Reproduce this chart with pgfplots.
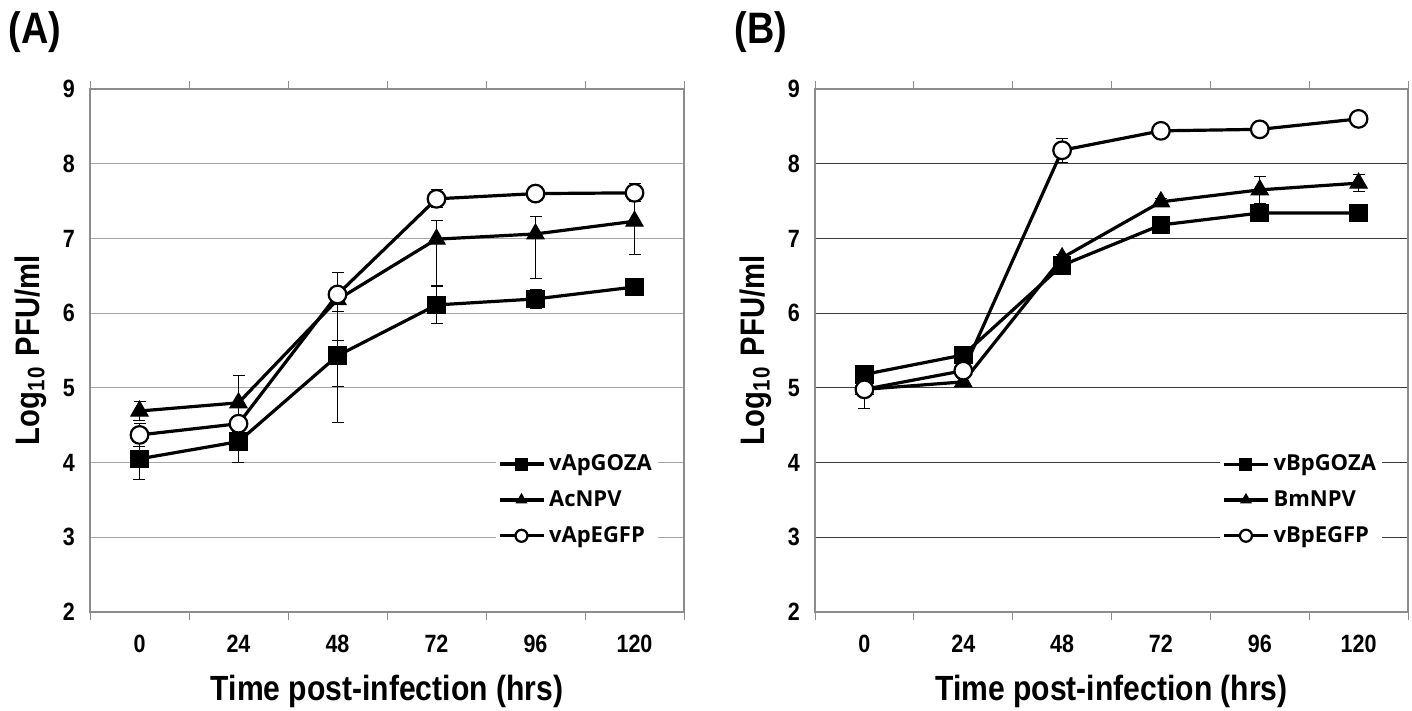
\documentclass[border=0pt]{standalone}
\usepackage{fontspec}
\setmainfont{Liberation Sans}[FakeStretch=0.86]
\newfontfamily\legfont{Open Sans}
\usepackage{pgfplots}
\pgfplotsset{compat=1.18}
\definecolor{gridA}{HTML}{A6A6A6}
\definecolor{gridB}{HTML}{3A3A3A}
\definecolor{frameA}{HTML}{8C8C8C}

\pgfplotsset{
  growth/.style={
    scale only axis, width=297pt, height=261.5pt,
    xmin=-0.5, xmax=5.5, ymin=2, ymax=9,
    xtick={0,...,5}, xticklabels={0,24,48,72,96,120},
    ytick={2,...,9}, ymajorgrids,
    major tick length=0pt,
    extra x ticks={-0.5,0.5,...,5.5}, extra x tick labels={},
    extra x tick style={grid=none, major tick length=4pt, tick align=outside,
                        tick style={draw=frameA, line width=0.5pt}},
    axis line style={draw=frameA, line width=0.6pt},
    /pgf/number format/assume math mode=true,
    tick label style={font=\fontsize{12.5}{14}\selectfont\bfseries},
    xticklabel style={yshift=-8pt},
    yticklabel style={xshift=-4pt},
    ylabel={Log$_{\mathbf{10}}$ PFU/ml},
    ylabel style={at={(axis description cs:-0.1,0.5)}, anchor=center, rotate=0,
                  font=\fontsize{17}{19}\selectfont\bfseries},
    xlabel={Time post-infection (hrs)},
    xlabel style={at={(axis description cs:0.5,-0.152)}, anchor=center,
                  font=\fontsize{17.5}{20}\selectfont\bfseries},
    legend cell align=left,
    legend style={draw=none, fill=white, inner sep=1pt,
                  font=\legfont\fontsize{11}{13}\selectfont\bfseries,
                  row sep=4.5pt, at={(axis cs:5.24,3.5)}, anchor=east},
    legend image code/.code={
      \draw[#1, mark size=3pt, mark repeat=2, mark phase=2]
        plot coordinates {(0pt,0pt) (11pt,0pt) (22pt,0pt)};},
    error bars/y dir=both, error bars/y explicit,
    error bars/error bar style={black, line width=0.5pt},
    error bars/error mark options={rotate=90, mark size=3pt, black, line width=0.5pt},
  },
  sq/.style={black, line width=1.6pt, mark=square*, mark size=4.4pt,
             mark options={fill=black, line width=0.5pt}},
  tr/.style={black, line width=1.6pt, mark=triangle*, mark size=5pt,
             mark options={fill=black, line width=0.5pt}},
  ci/.style={black, line width=1.6pt, mark=*, mark size=4.4pt,
             mark options={fill=white, line width=1.1pt}},
}

\begin{document}
\begin{tikzpicture}
\path[use as bounding box] (0,0) rectangle (706pt,355.5pt);

% panel A
\begin{axis}[growth, at={(45pt,49.5pt)}, anchor=south west,
  grid style={draw=gridA, line width=0.6pt}]
\addplot[sq] coordinates {
  (0,4.05) +- (0,0.27)
  (1,4.28) +- (0,0.28)
  (2,5.43) += (0,0.21) -= (0,0.89)
  (3,6.11) +- (0,0.25)
  (4,6.19) +- (0,0.13)
  (5,6.35) +- (0,0.05)
};
\addlegendentry{vApGOZA}
\addplot[tr] coordinates {
  (0,4.69) +- (0,0.13)
  (1,4.80) +- (0,0.37)
  (2,6.18) += (0,0.36) -= (0,1.16)
  (3,6.99) += (0,0.25) -= (0,0.62)
  (4,7.06) += (0,0.24) -= (0,0.60)
  (5,7.23) +- (0,0.45)
};
\addlegendentry{AcNPV}
\addplot[ci] coordinates {
  (0,4.37) +- (0,0.15)
  (1,4.52) +- (0,0.10)
  (2,6.25) += (0,0.29) -= (0,0.23)
  (3,7.53) +- (0,0.12)
  (4,7.60) +- (0,0.05)
  (5,7.61) +- (0,0.12)
};
\addlegendentry{vApEGFP}
\end{axis}

% panel B
\begin{axis}[growth, at={(407.5pt,49.5pt)}, anchor=south west, width=296.5pt,
  grid style={draw=gridB, line width=0.5pt}]
\addplot[sq] coordinates {
  (0,5.18) +- (0,0.05)
  (1,5.44) +- (0,0.05)
  (2,6.64) +- (0,0.05)
  (3,7.18) +- (0,0.06)
  (4,7.34) +- (0,0.05)
  (5,7.34) +- (0,0.04)
};
\addlegendentry{vBpGOZA}
\addplot[tr] coordinates {
  (0,4.98) +- (0,0.05)
  (1,5.08) +- (0,0.04)
  (2,6.74) +- (0,0.05)
  (3,7.49) +- (0,0.05)
  (4,7.65) +- (0,0.18)
  (5,7.74) +- (0,0.11)
};
\addlegendentry{BmNPV}
\addplot[ci] coordinates {
  (0,4.98) +- (0,0.25)
  (1,5.23) +- (0,0.05)
  (2,8.18) +- (0,0.16)
  (3,8.44) +- (0,0.04)
  (4,8.46) +- (0,0.04)
  (5,8.60) +- (0,0.04)
};
\addlegendentry{vBpEGFP}
\end{axis}

\node[anchor=north west, inner sep=0pt, font=\fontsize{22}{24}\selectfont\bfseries]
  at (4pt,350pt) {(A)};
\node[anchor=north west, inner sep=0pt, font=\fontsize{22}{24}\selectfont\bfseries]
  at (367pt,350pt) {(B)};
\end{tikzpicture}
\end{document}
